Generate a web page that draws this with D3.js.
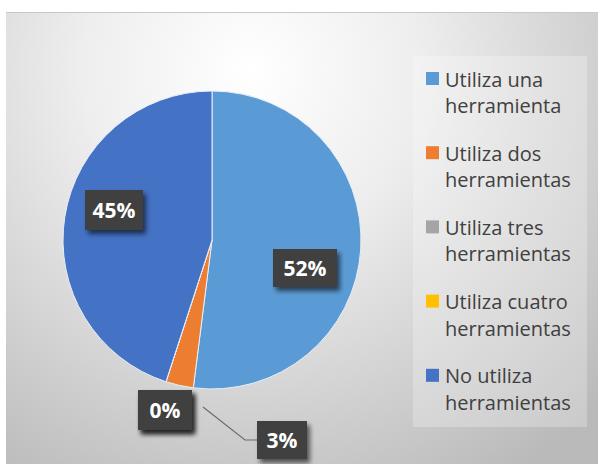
<!DOCTYPE html>
<html>
<head>
<meta charset="utf-8">
<script src="https://cdn.jsdelivr.net/npm/d3@7"></script>
<style>
  body { margin: 0; background: #fff; }
  svg { display: block; }
</style>
</head>
<body>
<svg id="chart" width="598" height="464"></svg>
<script>
// datos del gráfico
const categorias = ["Utiliza una herramienta", "Utiliza dos herramientas", "Utiliza tres herramientas", "Utiliza cuatro herramientas", "No utiliza herramientas"];
const lineasLeyenda = [["Utiliza una", "herramienta"], ["Utiliza dos", "herramientas"], ["Utiliza tres", "herramientas"], ["Utiliza cuatro", "herramientas"], ["No utiliza", "herramientas"]];
const valores = [52, 3, 0, 0, 45];
const colores = ["#5B9BD5", "#ED7D31", "#A5A5A5", "#FFC000", "#4472C4"];

const svg = d3.select("#chart");
const defs = svg.append("defs");

// fondo con degradado radial
const grad = defs.append("radialGradient")
  .attr("id", "fondo")
  .attr("gradientUnits", "userSpaceOnUse")
  .attr("cx", 250).attr("cy", 70).attr("r", 480);
grad.append("stop").attr("offset", "0%").attr("stop-color", "#ffffff");
grad.append("stop").attr("offset", "35%").attr("stop-color", "#eeeeee");
grad.append("stop").attr("offset", "100%").attr("stop-color", "#bababa");

const sombra = defs.append("filter").attr("id", "sombra")
  .attr("x", "-30%").attr("y", "-30%").attr("width", "170%").attr("height", "170%");
sombra.append("feGaussianBlur").attr("in", "SourceAlpha").attr("stdDeviation", 2.5);
sombra.append("feOffset").attr("dx", 3).attr("dy", 4).attr("result", "b");
sombra.append("feComponentTransfer").append("feFuncA").attr("type", "linear").attr("slope", 0.6);
const merge = sombra.append("feMerge");
merge.append("feMergeNode");
merge.append("feMergeNode").attr("in", "SourceGraphic");

svg.append("rect")
  .attr("x", 6).attr("y", 12).attr("width", 592).attr("height", 452)
  .attr("fill", "url(#fondo)");
svg.append("line")
  .attr("x1", 6).attr("x2", 598).attr("y1", 12.5).attr("y2", 12.5)
  .attr("stroke", "#c8c8c8");

// recuadro claro de la leyenda
svg.append("rect")
  .attr("x", 413).attr("y", 56).attr("width", 174).attr("height", 371)
  .attr("fill", "#ffffff").attr("opacity", 0.25);

// pastel
const cx = 212, cy = 240, radio = 149;
const pie = d3.pie().sort(null).value(d => d);
const arcos = pie(valores);
const arc = d3.arc().innerRadius(0).outerRadius(radio);

const g = svg.append("g").attr("transform", `translate(${cx},${cy})`);
g.selectAll("path")
  .data(arcos)
  .join("path")
  .attr("d", arc)
  .attr("fill", (d, i) => colores[i])
  .attr("stroke", "#e8eef8")
  .attr("stroke-width", 1);

// etiquetas
const posEtiquetas = [
  { dx: 93, dy: 28, w: 64, h: 38 },   // 52%
  { dx: 70, dy: 200, w: 50, h: 38 },  // 3%
  { dx: -47, dy: 170, w: 54, h: 40 }, // 0%
  { dx: -47, dy: 170, w: 54, h: 40 }, // 0%
  { dx: -98, dy: -30, w: 58, h: 40 }  // 45%
];

// línea guía para 3%
g.append("polyline")
  .attr("points", [[-9, 167], [33, 200], [45, 200]].map(p => p.join(",")).join(" "))
  .attr("fill", "none")
  .attr("stroke", "#6b6b6b")
  .attr("stroke-width", 1.2);

const etiquetas = g.selectAll("g.etq")
  .data(arcos)
  .join("g")
  .attr("class", "etq")
  .attr("transform", (d, i) => `translate(${posEtiquetas[i].dx},${posEtiquetas[i].dy})`);

etiquetas.append("rect")
  .attr("x", (d, i) => -posEtiquetas[i].w / 2)
  .attr("y", (d, i) => -posEtiquetas[i].h / 2)
  .attr("width", (d, i) => posEtiquetas[i].w)
  .attr("height", (d, i) => posEtiquetas[i].h)
  .attr("fill", "#404040")
  .attr("filter", "url(#sombra)");

etiquetas.append("text")
  .attr("text-anchor", "middle")
  .attr("dy", "0.36em")
  .attr("fill", "#ffffff")
  .attr("font-family", "Open Sans, Noto Sans, sans-serif")
  .attr("font-weight", "bold")
  .attr("font-size", 21)
  .text(d => d.data + "%");

// leyenda
const ley = svg.append("g").attr("transform", "translate(426,72)");
const item = ley.selectAll("g")
  .data(categorias)
  .join("g")
  .attr("transform", (d, i) => `translate(0,${i * 74.2})`);

item.append("rect")
  .attr("width", 13).attr("height", 13)
  .attr("fill", (d, i) => colores[i]);

item.append("text")
  .attr("x", 19)
  .attr("font-family", "Open Sans, Noto Sans, sans-serif")
  .attr("font-size", 20)
  .attr("fill", "#404040")
  .selectAll("tspan")
  .data((d, i) => lineasLeyenda[i])
  .join("tspan")
  .attr("x", 19)
  .attr("y", (d, j) => 14.5 + j * 26.5)
  .text(d => d);
</script>
</body>
</html>
